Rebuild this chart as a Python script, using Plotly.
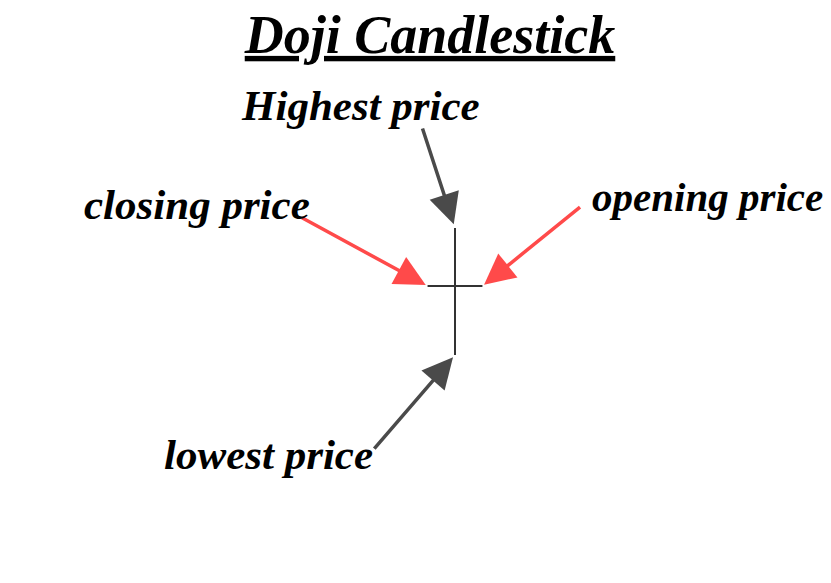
import plotly.graph_objects as go

# ---- data: a single doji candle (open == close) ----
candle_x = [0]
open_price = [100.0]
close_price = [100.0]
high_price = [104.0]
low_price = [95.24]

title_text = "Doji Candlestick"
label_high = "Highest price"
label_close = "closing price"
label_open = "opening price"
label_low = "lowest price"

WICK = "#333333"
RED = "#ff4a4a"
GREY = "#4a4a4a"
FONT = "Liberation Serif"

W, H = 831, 583
OFF = 0


def px(x):
    return (x - OFF) / W


def py(y):
    return 1 - (y - OFF) / H


fig = go.Figure()
fig.add_trace(go.Candlestick(
    x=candle_x, open=open_price, high=high_price, low=low_price, close=close_price,
    increasing=dict(line=dict(color=WICK, width=2), fillcolor=WICK),
    decreasing=dict(line=dict(color=WICK, width=2), fillcolor=WICK),
    whiskerwidth=0, showlegend=False, hoverinfo="skip",
))

XS = 112.0   # px per x unit
YS = 14.5    # px per price unit
cx_px, cy_px = 455 - OFF, 286 - OFF
x_range = [candle_x[0] - cx_px / XS, candle_x[0] + (W - cx_px) / XS]
y_range = [open_price[0] - (H - cy_px) / YS, open_price[0] + cy_px / YS]
half_body = 27.5 / XS


def lab_font(size):
    return dict(family=FONT, size=size, color="black", weight="bold", style="italic")


def arrow(x, y, ax, ay, color, standoff):
    return dict(x=x, y=y, xref="x", yref="y", ax=ax, ay=ay, text="", showarrow=True,
                arrowhead=2, arrowsize=1.75, arrowwidth=3.5, arrowcolor=color,
                standoff=standoff)


def label(text, x, y, size=43):
    return dict(text=text, x=px(x), y=py(y), xref="paper", yref="paper",
                xanchor="center", yanchor="middle", showarrow=False, font=lab_font(size))


annotations = [
    arrow(candle_x[0], high_price[0], -33, -101, GREY, 4),
    arrow(candle_x[0] - half_body, close_price[0], -127, -69, RED, 2),
    arrow(candle_x[0] + half_body, open_price[0], 99, -80, RED, 2),
    arrow(candle_x[0], low_price[0], -82, 95, GREY, 3),
    label(label_high, 360, 105),
    label(label_close, 197, 204),
    label(label_open, 707, 197, 41),
    label(label_low, 268, 455),
]

fig.update_layout(
    width=W, height=H,
    margin=dict(l=0, r=0, t=0, b=0),
    paper_bgcolor="white", plot_bgcolor="white",
    title=dict(text="<u>" + title_text + "</u>", x=px(430), xanchor="center",
               y=py(34), yanchor="middle", yref="container",
               font=dict(family=FONT, size=54, color="black", weight="bold", style="italic")),
    xaxis=dict(range=x_range, visible=False, fixedrange=True,
               rangeslider=dict(visible=False)),
    yaxis=dict(range=y_range, visible=False, fixedrange=True),
    annotations=annotations,
    showlegend=False,
)

fig.write_html("out.html", config={"displayModeBar": False},
               post_script="document.body.style.margin='0';")
